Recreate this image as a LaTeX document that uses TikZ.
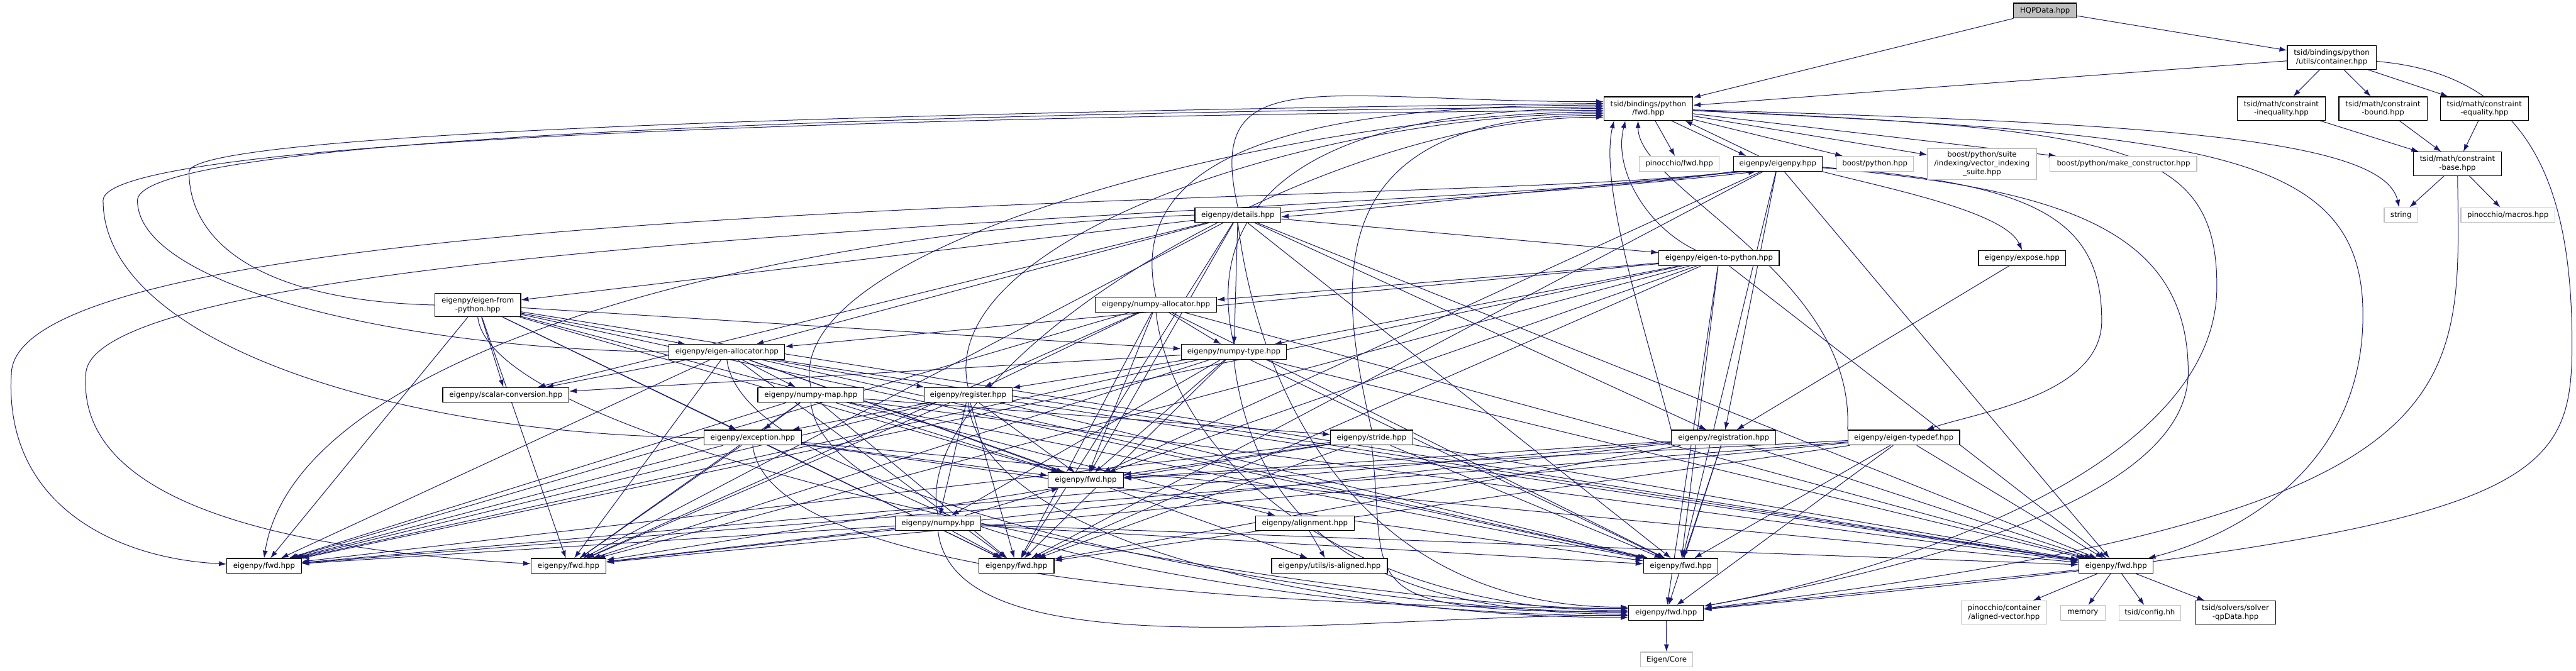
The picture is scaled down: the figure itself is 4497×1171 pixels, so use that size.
\documentclass[tikz,border=0pt]{standalone}
\usepackage{fontspec}
\setmainfont{DejaVu Sans}
\usetikzlibrary{arrows.meta, backgrounds, calc}
\definecolor{edgeblue}{RGB}{25,25,112}
\definecolor{extgray}{RGB}{191,191,191}
\tikzset{
  file/.style={draw=black, line width=1.3pt, fill=white, inner sep=0pt, minimum height=26pt,
    align=center, font=\fontsize{12.9}{15}\selectfont},
  extfile/.style={file, draw=extgray},
  rootfile/.style={file, fill=extgray},
  dep/.style={draw=edgeblue, line width=1.1pt, -{Latex[length=13pt,width=9pt]}},
}
\begin{document}
\begin{tikzpicture}[x=1pt, y=-1pt]
  \useasboundingbox (0,0) rectangle (4497,1171);
  \node[rootfile, minimum width=110pt] (hqp) at (3570,18.5) {HQPData.hpp};
  \node[file, minimum width=155pt, minimum height=41pt] (tbpf) at (2877.5,189.5) {tsid/bindings/python\\/fwd.hpp};
  \node[file, minimum width=155pt, minimum height=41pt] (cont) at (4070.5,100.5) {tsid/bindings/python\\/utils/container.hpp};
  \node[file, minimum width=153pt, minimum height=41pt] (cineq) at (3982.5,189.5) {tsid/math/constraint\\-inequality.hpp};
  \node[file, minimum width=154pt, minimum height=41pt] (cbound) at (4160,189.5) {tsid/math/constraint\\-bound.hpp};
  \node[file, minimum width=154pt, minimum height=41pt] (ceq) at (4337,189.5) {tsid/math/constraint\\-equality.hpp};
  \node[file, minimum width=154pt, minimum height=41pt] (cbase) at (4290,286) {tsid/math/constraint\\-base.hpp};
  \node[extfile, minimum width=59pt] (string) at (4191.5,375.5) {string};
  \node[extfile, minimum width=164pt] (pmacros) at (4378,375.5) {pinocchio/macros.hpp};
  \node[extfile, minimum width=139pt] (pfwd) at (2931.5,286) {pinocchio/fwd.hpp};
  \node[file, minimum width=155pt] (eigenpy) at (3103.5,286) {eigenpy/eigenpy.hpp};
  \node[extfile, minimum width=134pt] (bpy) at (3273,286) {boost/python.hpp};
  \node[extfile, minimum width=190pt, minimum height=54pt] (vis) at (3460,286) {boost/python/suite\\/indexing/vector\_indexing\\\_suite.hpp};
  \node[extfile, minimum width=256pt] (mkc) at (3707,286) {boost/python/make\_constructor.hpp};
  \node[file, minimum width=150pt] (details) at (2161,375.5) {eigenpy/details.hpp};
  \node[file, minimum width=210pt] (e2p) at (3001,450.5) {eigenpy/eigen-to-python.hpp};
  \node[file, minimum width=152pt] (expose) at (3530,450.5) {eigenpy/expose.hpp};
  \node[file, minimum width=150pt, minimum height=41pt] (efp) at (834,532.5) {eigenpy/eigen-from\\-python.hpp};
  \node[file, minimum width=212pt] (nalloc) at (2018,532) {eigenpy/numpy-allocator.hpp};
  \node[file, minimum width=202pt] (ealloc) at (1269,614.5) {eigenpy/eigen-allocator.hpp};
  \node[file, minimum width=184pt] (ntype) at (2154,614.5) {eigenpy/numpy-type.hpp};
  \node[file, minimum width=220pt] (scalc) at (883,689.5) {eigenpy/scalar-conversion.hpp};
  \node[file, minimum width=185pt] (nmap) at (1415.5,689.5) {eigenpy/numpy-map.hpp};
  \node[file, minimum width=154pt] (reg) at (1690,689.5) {eigenpy/register.hpp};
  \node[file, minimum width=170pt] (exc) at (1314,764) {eigenpy/exception.hpp};
  \node[file, minimum width=143pt] (stride) at (2394.5,764) {eigenpy/stride.hpp};
  \node[file, minimum width=182pt] (registration) at (3009,764) {eigenpy/registration.hpp};
  \node[file, minimum width=195pt] (etd) at (3323.5,764) {eigenpy/eigen-typedef.hpp};
  \node[file, minimum width=131pt] (fwdA) at (1895.5,838.5) {eigenpy/fwd.hpp};
  \node[file, minimum width=149pt] (numpy) at (1637.5,913.5) {eigenpy/numpy.hpp};
  \node[file, minimum width=172pt] (align) at (2278,913.5) {eigenpy/alignment.hpp};
  \node[file, minimum width=130pt] (fwdB) at (461,988) {eigenpy/fwd.hpp};
  \node[file, minimum width=131pt] (fwdC) at (992.5,988) {eigenpy/fwd.hpp};
  \node[file, minimum width=131pt] (fwdD) at (1774.5,988) {eigenpy/fwd.hpp};
  \node[file, minimum width=202pt] (isal) at (2321,988) {eigenpy/utils/is-aligned.hpp};
  \node[file, minimum width=130pt] (fwdE) at (2934,988) {eigenpy/fwd.hpp};
  \node[file, minimum width=130pt] (fwdF) at (3694,988) {eigenpy/fwd.hpp};
  \node[file, minimum width=131pt] (fwdG) at (2908.5,1070) {eigenpy/fwd.hpp};
  \node[extfile, minimum width=149pt, minimum height=41pt] (avec) at (3498.5,1069.5) {pinocchio/container\\/aligned-vector.hpp};
  \node[extfile, minimum width=78pt] (memory) at (3636,1070) {memory};
  \node[extfile, minimum width=108pt] (config) at (3753,1070) {tsid/config.hh};
  \node[file, minimum width=141pt, minimum height=41pt] (sqp) at (3902.5,1069.5) {tsid/solvers/solver\\-qpData.hpp};
  \node[extfile, minimum width=91pt] (ecore) at (2909.5,1151.5) {Eigen/Core};

  \begin{scope}[on background layer]
    % tsid headers
    \draw[dep] (hqp) -- (tbpf);
    \draw[dep] (hqp) -- (cont);
    \draw[dep] (cont) -- (tbpf);
    \foreach \t in {cineq,cbound,ceq} \draw[dep] (cont) -- (\t);
    \foreach \s in {cineq,cbound,ceq} \draw[dep] (\s) -- (cbase);
    \draw[dep] (cbase) -- (string);
    \draw[dep] (cbase) -- (pmacros);
    \draw[dep] (cbase) .. controls (4295,700) and (4330,900) .. (fwdG);
    \draw[dep] (cont) .. controls (4420,130) and (4490,330) .. (4490,600) .. controls (4490,860) and (4420,930) .. (fwdG);
    \foreach \t in {pfwd,bpy,vis,mkc} \draw[dep] (tbpf) -- (\t);
    \draw[dep] ($(tbpf.south)+(40,0)$) -- ($(eigenpy.north)+(-55,0)$);
    \draw[dep] ($(eigenpy.north)+(-33,0)$) -- ($(tbpf.south)+(64,0)$);
    \draw[dep] (tbpf) .. controls (3750,215) and (4160,240) .. (string);
    \draw[dep] (tbpf) .. controls (3700,225) and (3870,250) .. (3870,500) .. controls (3870,820) and (3300,1000) .. (fwdG);
    \draw[dep] (tbpf) .. controls (3850,235) and (4125,260) .. (4125,550) .. controls (4125,850) and (3850,950) .. (fwdF);
    % eigenpy headers
    \draw[dep] ($(eigenpy.south west)+(20,0)$) .. controls (2700,330) and (2350,370) .. ($(details.east)+(0,3)$);
    \draw[dep] ($(details.east)+(0,-5)$) .. controls (2450,350) and (2800,330) .. ($(eigenpy.south west)+(40,0)$);
    \draw[dep] (eigenpy.south east) .. controls (3300,330) and (3500,370) .. (expose.north);
    \draw[dep] (eigenpy) .. controls (3550,320) and (3669,380) .. (3669,560) .. controls (3669,690) and (3450,720) .. (etd);
    \draw[dep] (eigenpy) -- (registration);
    \draw[dep] (eigenpy) .. controls (3600,330) and (3820,400) .. (3820,650) .. controls (3820,880) and (3300,1000) .. (fwdG);
    \draw[dep] (eigenpy.south west) .. controls (2600,360) and (40,330) .. (20,650) .. controls (5,880) and (200,975) .. (fwdB);
    \draw[dep] (eigenpy.south west) .. controls (2600,370) and (180,400) .. (150,650) .. controls (130,880) and (500,960) .. (fwdC);
    \draw[dep] (details.west) .. controls (1400,400) and (520,600) .. (fwdB.north);
    \foreach \t in {e2p,efp,ealloc,ntype,scalc,registration} \draw[dep] (details) -- (\t);
    \foreach \t in {ealloc,ntype,nalloc} \draw[dep] (e2p) -- (\t);
    \foreach \t in {ealloc,ntype,scalc,exc,align} \draw[dep] (efp) -- (\t);
    \foreach \t in {ntype,reg} \draw[dep] (nalloc) -- (\t);
    \foreach \t in {scalc,nmap,reg,isal} \draw[dep] (ealloc) -- (\t);
    \foreach \t in {scalc,reg,numpy} \draw[dep] (ntype) -- (\t);
    \foreach \t in {exc,stride} \draw[dep] (nmap) -- (\t);
    \foreach \t in {exc,numpy} \draw[dep] (reg) -- (\t);
    \draw[dep] (expose) -- (registration);
    \draw[dep] (align) -- (isal);
    \foreach \t in {avec,memory,config,sqp,fwdG} \draw[dep] (fwdF) -- (\t);
    \draw[dep] (fwdG) -- (ecore);
    % fwd.hpp fan-in
    \draw[dep] (efp.west) .. controls (450,525) and (330,420) .. (330,300) .. controls (330,215) and (2200,188) .. ($(tbpf.west)+(0,-9)$);
    \draw[dep] (ealloc.west) .. controls (700,610) and (240,500) .. (240,350) .. controls (240,215) and (2200,192) .. ($(tbpf.west)+(0,-3)$);
    \draw[dep] (exc.west) .. controls (700,760) and (180,600) .. (180,350) .. controls (180,220) and (2200,198) .. ($(tbpf.west)+(0,3)$);
    \foreach \s/\d in {details/-12,nalloc/-6,ntype/0,nmap/6,reg/9,stride/12,numpy/15}
      \draw[dep] (\s.north) .. controls ($(\s.north)+(-60,-260)$) and ($(tbpf.west)+(-500,\d)$) .. ($(tbpf.west)+(0,\d)$);
    \draw[dep] ($(e2p.north)+(-40,0)$) .. controls (2880,400) and (2815,300) .. ($(tbpf.south)+(-40,0)$);
    \draw[dep] (registration.north west) .. controls (2880,600) and (2790,330) .. ($(tbpf.south)+(-60,0)$);
    \draw[dep] (etd.north west) .. controls (3240,480) and (2860,330) .. ($(tbpf.south)+(-18,0)$);
    \foreach \s in {eigenpy,details,e2p,efp,nalloc,ealloc,ntype,nmap,reg,exc,stride,registration,etd,numpy}
      \foreach \t in {fwdA,fwdD,fwdE,fwdF} \draw[dep] (\s) -- (\t);
    \foreach \s in {e2p,efp,nalloc,ealloc,ntype,nmap,reg,exc,stride,registration,etd,numpy}
      \draw[dep] (\s) -- (fwdB);
    \foreach \s in {details,e2p,efp,nalloc,ealloc,ntype,nmap,reg,exc,stride,registration,etd,numpy}
      \draw[dep] (\s) -- (fwdC);
    \foreach \s/\d in {details/-10,efp/-7,nalloc/-4,ealloc/-1,ntype/2,nmap/5,reg/8,exc/-8,stride/-2,numpy/4}
      \draw[dep] (\s.south) .. controls ($(\s.south)+(30,250)$) and ($(fwdG.west)+(-500,\d)$) .. ($(fwdG.west)+(0,\d)$);
    \foreach \s in {e2p,registration,etd} \draw[dep] (\s) -- (fwdG);
  \end{scope}
\end{tikzpicture}
\end{document}
